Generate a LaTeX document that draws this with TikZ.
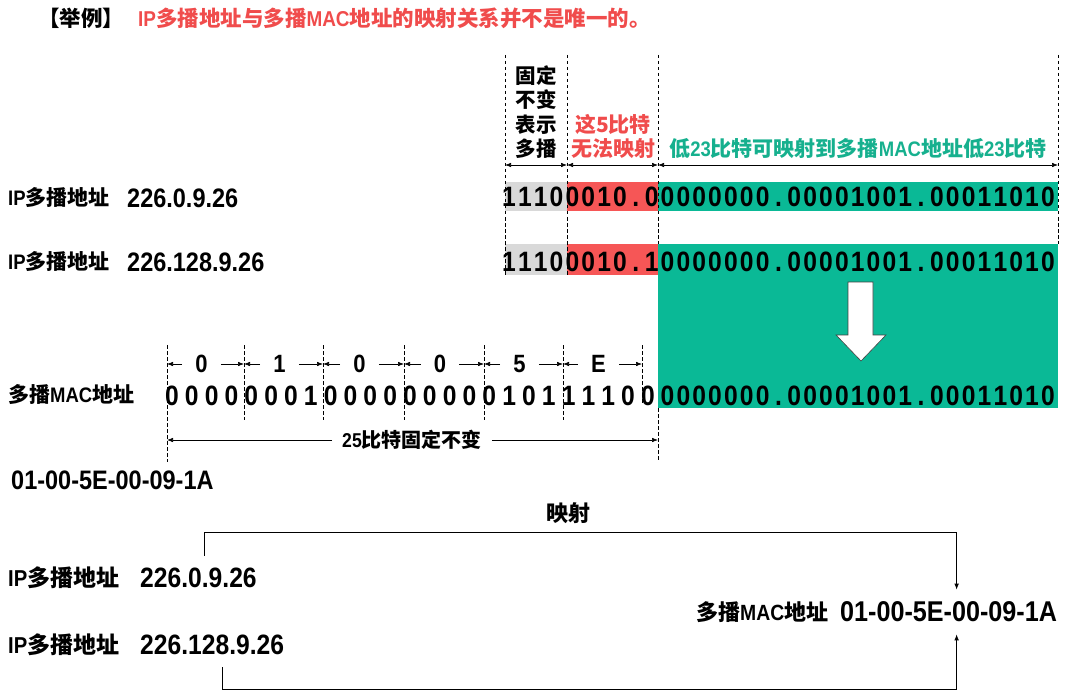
\documentclass[tikz,border=0pt]{standalone}
\usepackage{fontspec}
\setmainfont{Liberation Sans}
\newfontfamily\cjk{Noto Sans CJK SC}
\newfontfamily\nar{Liberation Sans}[FakeStretch=0.88]
\usetikzlibrary{arrows.meta,positioning}

\definecolor{mgreen}{RGB}{10,185,150}
\definecolor{mgreentxt}{RGB}{22,176,142}
\definecolor{mred}{RGB}{246,86,86}
\definecolor{mredtxt}{RGB}{240,76,76}
\definecolor{mgray}{RGB}{217,217,217}

\newcommand{\zh}[1]{{\cjk\bfseries #1}}
\newcommand{\la}[1]{{\nar\bfseries #1}}
\newcommand{\lowbits}{0,0,0,0,0,0,0,.,0,0,0,0,1,0,0,1,.,0,0,0,1,1,0,1,0}

\begin{document}
\begin{tikzpicture}[
    x=1pt, y=-1pt,
    >={Latex[length=6pt,width=4.5pt]},
    guide/.style={dash pattern=on 3.5pt off 2.5pt, line width=0.6pt},
    dim/.style={<->, line width=0.6pt},
    bit/.style={font=\nar\bfseries\fontsize{28}{28}\selectfont, inner sep=0pt, anchor=base},
    lab/.style={font=\fontsize{21}{24}\selectfont, inner sep=0pt, anchor=west},
    val/.style={font=\nar\bfseries\fontsize{26.7}{28}\selectfont, inner sep=0pt, anchor=west},
    zhtxt/.style={font=\cjk\bfseries\fontsize{21}{24.5}\selectfont, inner sep=0pt, align=center},
    grp/.style={font=\nar\bfseries\fontsize{25}{28}\selectfont, inner xsep=13pt, inner ysep=0pt},
    link/.style={->, line width=0.7pt}
]
\useasboundingbox (0,0) rectangle (1065,695);

% Title
\node[lab, font=\fontsize{21.5}{24}\selectfont] (ex) at (38,18) {\zh{【举例】}};
\node[lab, font=\fontsize{21.5}{24}\selectfont, text=mredtxt] (title) at (138,18)
    {\la{IP}\zh{多播地址与多播}\la{MAC}\zh{地址的映射关系并不是唯一的。}};

% Field captions
\node[zhtxt, font=\cjk\bfseries\fontsize{20.5}{24.5}\selectfont] (fixed) at (536,112) {固定\\不变\\表示\\多播};
\node[zhtxt, text=mredtxt] (lost) at (613,136.5) {这5比特\\无法映射};
\node[zhtxt, text=mgreentxt] (low) at (858,149)
    {\zh{低}\la{23}\zh{比特可映射到多播}\la{MAC}\zh{地址低}\la{23}\zh{比特}};

% Bit fields
\fill[mgray] (505,182) rectangle (567,211);
\fill[mred] (567,182) rectangle (658,211);
\fill[mgreen] (658,182) rectangle (1058,211);
\fill[mgray] (505,244) rectangle (567,275);
\fill[mred] (567,244) rectangle (658,275);
\fill[mgreen] (658,244) rectangle (1058,408);

% Guide lines
\foreach \x in {505,567} \draw[guide] (\x,55) -- (\x,276);
\draw[guide] (658,55) -- (658,244);
\draw[guide] (1058,55) -- (1058,244);
\draw[guide] (167,345) -- (167,462);
\foreach \x in {244,323,404,484,563} \draw[guide] (\x,345) -- (\x,420);
\draw[guide] (642,345) -- (642,404);
\draw[guide] (658,408) -- (658,462);

% Field widths
\foreach \n/\x in {d0/505, d1/567, d2/658, d3/1058} \coordinate (\n) at (\x,165);
\draw[dim] (d0) -- (d1);
\draw[dim] (d1) -- (d2);
\draw[dim] (d2) -- (d3);

% IP addresses
\node[lab] (ipa) at (8,198) {\la{IP}\zh{多播地址}};
\node[val] (ipav) at (127,198) {226.0.9.26};
\node[lab] (ipb) at (8,262) {\la{IP}\zh{多播地址}};
\node[val] (ipbv) at (127,262) {226.128.9.26};

\foreach \c [count=\k from 0] in {1,1,1,0,0,0,1,0,.,0}
    \node[bit] (ra\k) at (509+15.85*\k,207) {\c};
\foreach \c [count=\k from 0] in \lowbits
    \node[bit] (la\k) at (667.5+15.85*\k,207) {\c};
\foreach \c [count=\k from 0] in {1,1,1,0,0,0,1,0,.,1}
    \node[bit] (rb\k) at (509+15.85*\k,271) {\c};
\foreach \c [count=\k from 0] in \lowbits
    \node[bit] (lb\k) at (667.5+15.85*\k,271) {\c};

% Mapping arrow
\draw[fill=white, draw=black!75, line width=0.6pt]
    (848,282) -- (873,282) -- (873,335) -- (886,335) -- (861,361)
    -- (836,335) -- (848,335) -- cycle;

% MAC address
\node[lab] (maca) at (8,395) {\zh{多播}\la{MAC}\zh{地址}};
\foreach \l/\r/\t [count=\g] in {167/244/0, 244/323/1, 323/404/0, 404/484/0, 484/563/5, 563/642/E} {
    \node[grp] (h\g) at ({(\l+\r)/2-4},364) {\t};
    \draw[->, line width=0.6pt] (h\g.west) -- (\l,364);
    \draw[->, line width=0.6pt] (h\g.east) -- (\r,364);
}
\foreach \c [count=\k from 0] in {0,0,0,0,0,0,0,1,0,0,0,0,0,0,0,0,0,1,0,1,1,1,1,0,0}
    \node[bit] (mb\k) at (172+19.83*\k,405) {\c};
\foreach \c [count=\k from 0] in \lowbits
    \node[bit] (ml\k) at (667.5+15.85*\k,405) {\c};

\node[zhtxt, inner xsep=10pt, font=\cjk\bfseries\fontsize{20}{22}\selectfont] (fix25) at (412,440)
    {\la{25}\zh{比特固定不变}};
\draw[->, line width=0.6pt] (fix25.west) -- (167,440);
\draw[->, line width=0.6pt] (fix25.east) -- (658,440);

\node[val] (macav) at (11,480) {01-00-5E-00-09-1A};

% Many-to-one summary
\node[zhtxt, font=\cjk\bfseries\fontsize{22}{24}\selectfont] (map) at (568,513) {映射};
\node[lab, font=\fontsize{23}{26}\selectfont] (ipc) at (8,578) {\la{IP}\zh{多播地址}};
\node[val, font=\nar\bfseries\fontsize{28}{30}\selectfont] (ipcv) at (140,578) {226.0.9.26};
\node[lab, font=\fontsize{23}{26}\selectfont] (ipd) at (8,645) {\la{IP}\zh{多播地址}};
\node[val, font=\nar\bfseries\fontsize{28}{30}\selectfont] (ipdv) at (140,645) {226.128.9.26};
\node[lab, font=\fontsize{22}{24}\selectfont] (macb) at (696,612) {\zh{多播}\la{MAC}\zh{地址}};
\node[val, font=\nar\bfseries\fontsize{28.6}{30}\selectfont] (macbv) at (840,612) {01-00-5E-00-09-1A};

\draw[link] ([xshift=6pt, yshift=12pt]ipcv.north) -- ++(0,-24) -| ([xshift=8pt, yshift=12pt]macbv.north);
\draw[link] ([xshift=10pt, yshift=-12pt]ipdv.south) -- ++(0,22) -| ([xshift=8pt, yshift=-12pt]macbv.south);
\end{tikzpicture}
\end{document}
